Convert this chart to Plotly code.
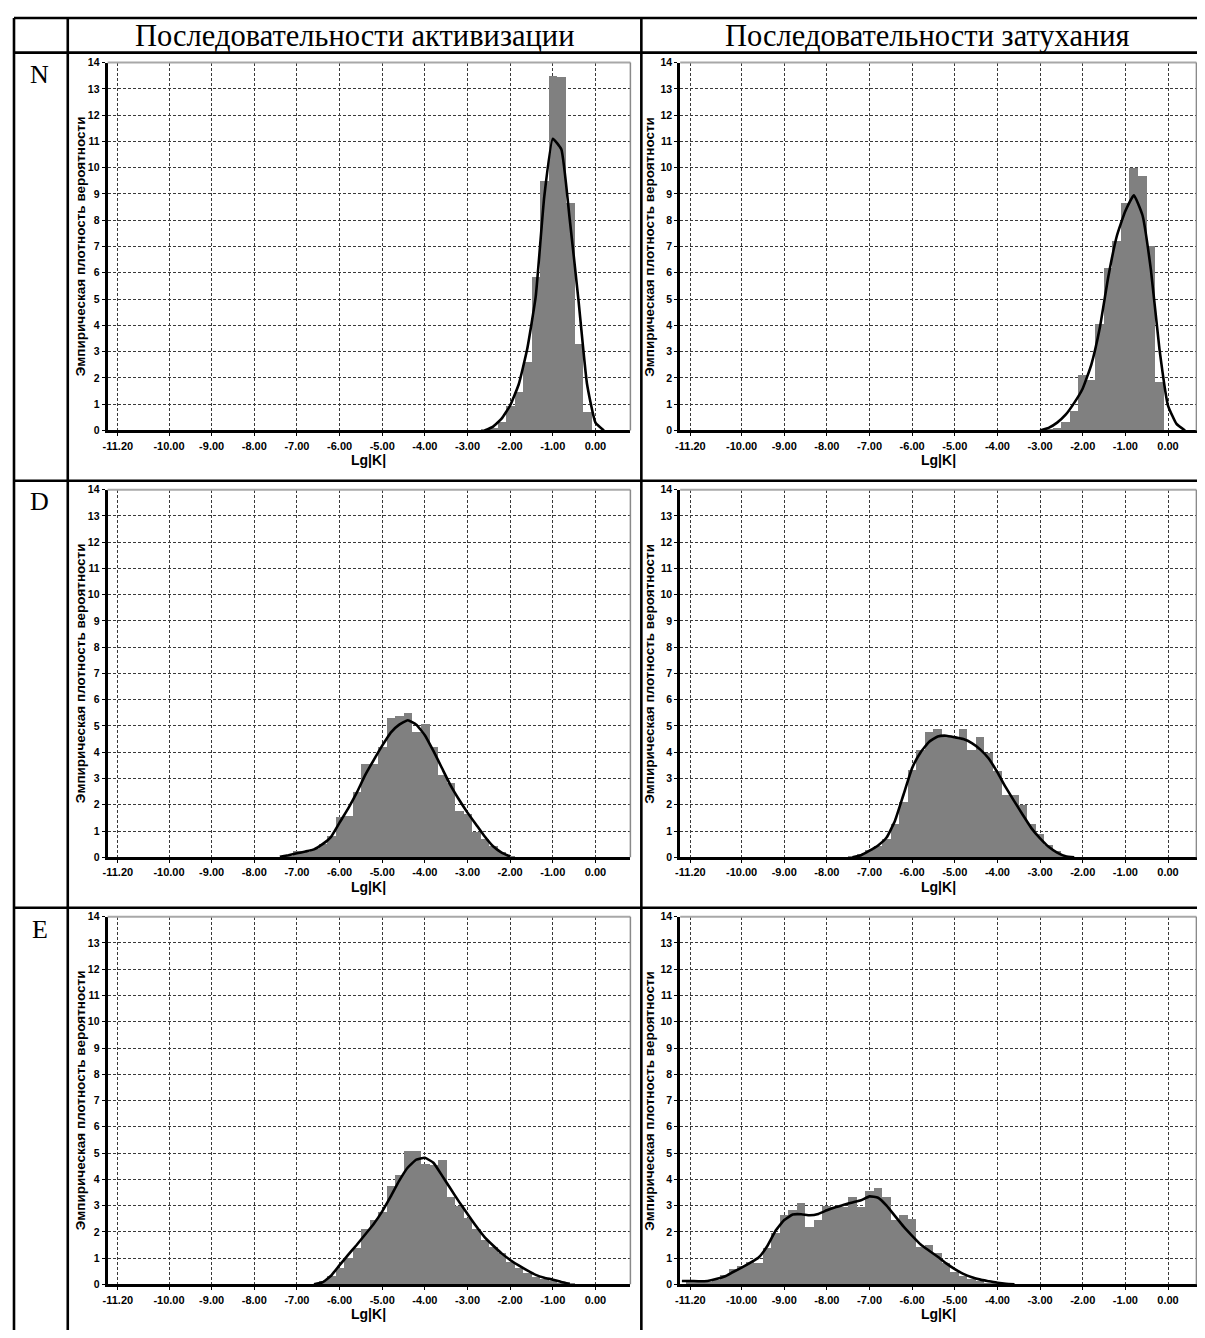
import plotly.graph_objects as go

W, H = 1205, 1338          # browser window
OFF = 8                    # default html body margin
FW, FH = W - 2 * OFF, H - 2 * OFF   # figure size so the page fits the window exactly

header_left = "Последовательности активизации"
header_right = "Последовательности затухания"
row_labels = ["N", "D", "E"]
y_title = "Эмпирическая плотность вероятности"
x_title = "Lg|K|"

x_tick_vals = [-11.2, -10, -9, -8, -7, -6, -5, -4, -3, -2, -1, 0]
x_tick_text = ["-11.20", "-10.00", "-9.00", "-8.00", "-7.00", "-6.00",
               "-5.00", "-4.00", "-3.00", "-2.00", "-1.00", "0.00"]
y_tick_vals = [0, 1, 2, 3, 4, 5, 6, 7, 8, 9, 10, 11, 12, 13, 14]

# ---- N, activation ----
n_act_bin_x = [-2.6, -2.4, -2.2, -2.0, -1.8, -1.6, -1.4, -1.2, -1.0, -0.8, -0.6, -0.4, -0.2]
n_act_bin_h = [0.05, 0.1, 0.35, 0.94, 1.5, 2.64, 5.84, 9.5, 13.5, 13.45, 8.69, 3.29, 0.72]
n_act_cur_x = [-2.6, -2.4, -2.2, -2.0, -1.8, -1.6, -1.4, -1.2, -1.0, -0.8, -0.6, -0.4, -0.2, 0.0, 0.2]
n_act_cur_y = [0.0, 0.15, 0.45, 0.95, 1.75, 3.1, 5.1, 8.9, 11.1, 10.7, 8.0, 5.0, 1.8, 0.3, 0.0]

# ---- N, decay ----
n_dec_bin_x = [-2.8, -2.6, -2.4, -2.2, -2.0, -1.8, -1.6, -1.4, -1.2, -1.0, -0.8, -0.6, -0.4, -0.2]
n_dec_bin_h = [0.05, 0.1, 0.35, 0.75, 2.13, 1.94, 4.08, 6.19, 7.22, 8.66, 10.0, 9.7, 7.03, 1.85]
n_dec_cur_x = [-3.0, -2.8, -2.6, -2.4, -2.2, -2.0, -1.8, -1.6, -1.4, -1.2, -1.0, -0.8, -0.6, -0.4, -0.2, 0.0, 0.2, 0.4]
n_dec_cur_y = [0.0, 0.1, 0.3, 0.6, 1.05, 1.6, 2.5, 3.9, 5.85, 7.4, 8.35, 8.95, 8.2, 6.1, 3.1, 0.95, 0.25, 0.0]

# ---- D, activation ----
d_act_bin_x = [-7.2, -7.0, -6.8, -6.6, -6.4, -6.2, -6.0, -5.8, -5.6, -5.4, -5.2, -5.0, -4.8, -4.6,
               -4.4, -4.2, -4.0, -3.8, -3.6, -3.4, -3.2, -3.0, -2.8, -2.6, -2.4, -2.2, -2.0]
d_act_bin_h = [0.05, 0.24, 0.2, 0.34, 0.53, 0.84, 1.56, 1.6, 2.5, 3.57, 3.55, 4.23, 5.3, 5.4,
               5.52, 4.8, 5.08, 4.23, 3.16, 2.85, 1.78, 1.66, 0.98, 0.72, 0.46, 0.2, 0.05]
d_act_cur_x = [-7.4, -7.2, -7.0, -6.8, -6.6, -6.4, -6.2, -6.0, -5.8, -5.6, -5.4, -5.2, -5.0, -4.8,
               -4.6, -4.4, -4.2, -4.0, -3.8, -3.6, -3.4, -3.2, -3.0, -2.8, -2.6, -2.4, -2.2, -2.0]
d_act_cur_y = [0.02, 0.08, 0.15, 0.22, 0.3, 0.5, 0.78, 1.32, 1.85, 2.45, 3.13, 3.7, 4.25, 4.75,
               5.05, 5.22, 5.05, 4.65, 4.05, 3.4, 2.75, 2.2, 1.7, 1.25, 0.8, 0.42, 0.18, 0.03]

# ---- D, decay ----
d_dec_bin_x = [-7.4, -7.2, -7.0, -6.8, -6.6, -6.4, -6.2, -6.0, -5.8, -5.6, -5.4, -5.2, -5.0, -4.8,
               -4.6, -4.4, -4.2, -4.0, -3.8, -3.6, -3.4, -3.2, -3.0, -2.8, -2.6, -2.4]
d_dec_bin_h = [0.05, 0.15, 0.28, 0.46, 0.72, 1.28, 2.1, 3.35, 4.1, 4.8, 4.88, 4.58, 4.58, 4.9,
               4.1, 4.58, 4.0, 3.3, 2.4, 2.4, 2.0, 1.3, 0.9, 0.5, 0.25, 0.08]
d_dec_cur_x = [-7.4, -7.2, -7.0, -6.8, -6.6, -6.4, -6.2, -6.0, -5.8, -5.6, -5.4, -5.2, -5.0, -4.8,
               -4.6, -4.4, -4.2, -4.0, -3.8, -3.6, -3.4, -3.2, -3.0, -2.8, -2.6, -2.4, -2.2]
d_dec_cur_y = [0.0, 0.08, 0.25, 0.45, 0.75, 1.4, 2.4, 3.4, 4.0, 4.4, 4.6, 4.63, 4.57, 4.5,
               4.35, 4.1, 3.75, 3.23, 2.65, 2.12, 1.6, 1.1, 0.72, 0.4, 0.18, 0.04, 0.0]

# ---- E, activation ----
e_act_bin_x = [-6.4, -6.2, -6.0, -5.8, -5.6, -5.4, -5.2, -5.0, -4.8, -4.6, -4.4, -4.2, -4.0, -3.8,
               -3.6, -3.4, -3.2, -3.0, -2.8, -2.6, -2.4, -2.2, -2.0, -1.8, -1.6, -1.4, -1.2, -1.0,
               -0.8, -0.6]
e_act_bin_h = [0.13, 0.31, 0.65, 1.0, 1.38, 2.1, 2.45, 2.75, 3.76, 4.17, 5.1, 5.1, 4.6, 4.55,
               4.75, 3.35, 3.0, 2.55, 2.1, 1.7, 1.45, 1.2, 0.85, 0.65, 0.45, 0.3, 0.2, 0.14,
               0.08, 0.03]
e_act_cur_x = [-6.6, -6.4, -6.2, -6.0, -5.8, -5.6, -5.4, -5.2, -5.0, -4.8, -4.6, -4.4, -4.2, -4.0,
               -3.8, -3.6, -3.4, -3.2, -3.0, -2.8, -2.6, -2.4, -2.2, -2.0, -1.8, -1.6, -1.4, -1.2,
               -1.0, -0.8, -0.6]
e_act_cur_y = [0.0, 0.08, 0.33, 0.73, 1.12, 1.5, 1.9, 2.3, 2.78, 3.35, 3.95, 4.45, 4.75, 4.82,
               4.63, 4.15, 3.65, 3.15, 2.68, 2.22, 1.8, 1.48, 1.18, 0.93, 0.72, 0.53, 0.36, 0.25,
               0.18, 0.09, 0.02]

# ---- E, decay ----
e_dec_bin_x = [-11.2, -11.0, -10.8, -10.6, -10.4, -10.2, -10.0, -9.8, -9.6, -9.4, -9.2, -9.0, -8.8,
               -8.6, -8.4, -8.2, -8.0, -7.8, -7.6, -7.4, -7.2, -7.0, -6.8, -6.6, -6.4, -6.2, -6.0,
               -5.8, -5.6, -5.4, -5.2, -5.0, -4.8, -4.6, -4.4, -4.2, -4.0, -3.8]
e_dec_bin_h = [0.15, 0.1, 0.1, 0.19, 0.38, 0.6, 0.7, 0.88, 0.82, 1.38, 1.95, 2.64, 2.83,
               3.1, 2.2, 2.45, 3.01, 2.97, 2.95, 3.35, 2.97, 3.58, 3.67, 3.35, 2.45, 2.66, 2.5,
               1.44, 1.5, 1.19, 0.82, 0.5, 0.31, 0.23, 0.15, 0.08, 0.04, 0.02]
e_dec_cur_x = [-11.4, -11.2, -11.0, -10.8, -10.6, -10.4, -10.2, -10.0, -9.8, -9.6, -9.4, -9.2, -9.0,
               -8.8, -8.6, -8.4, -8.2, -8.0, -7.8, -7.6, -7.4, -7.2, -7.0, -6.8, -6.6, -6.4, -6.2,
               -6.0, -5.8, -5.6, -5.4, -5.2, -5.0, -4.8, -4.6, -4.4, -4.2, -4.0, -3.8, -3.6]
e_dec_cur_y = [0.13, 0.13, 0.12, 0.13, 0.2, 0.3, 0.47, 0.64, 0.82, 1.02, 1.45, 2.05, 2.45,
               2.66, 2.67, 2.63, 2.68, 2.82, 2.94, 3.03, 3.12, 3.2, 3.35, 3.3, 3.0, 2.6, 2.2,
               1.85, 1.52, 1.28, 1.05, 0.8, 0.58, 0.4, 0.27, 0.18, 0.12, 0.06, 0.02, 0.0]

panels = [
    (n_act_bin_x, n_act_bin_h, n_act_cur_x, n_act_cur_y, 0, 0),
    (n_dec_bin_x, n_dec_bin_h, n_dec_cur_x, n_dec_cur_y, 0, 1),
    (d_act_bin_x, d_act_bin_h, d_act_cur_x, d_act_cur_y, 1, 0),
    (d_dec_bin_x, d_dec_bin_h, d_dec_cur_x, d_dec_cur_y, 1, 1),
    (e_act_bin_x, e_act_bin_h, e_act_cur_x, e_act_cur_y, 2, 0),
    (e_dec_bin_x, e_dec_bin_h, e_dec_cur_x, e_dec_cur_y, 2, 1),
]

# layout geometry in screen pixels (right column clipped at the figure edge)
col_px = [(103, 628), (678, W - OFF)]
col_range = [[-11.44, 0.82], [-11.44, 0.68]]
row_px = [(57, 428.3), (488, 859), (919, 1290)]


def px(x):
    return (x - OFF) / FW


def py(y):
    return 1 - (y - OFF) / FH


fig = go.Figure()
layout_axes = {}
shapes = []
annotations = []

sans = "Liberation Sans, Arial, sans-serif"
xtick_font = dict(family=sans, size=11, color="black", weight="bold")
ytick_font = dict(family=sans, size=10.5, color="black", weight="bold")
title_font = dict(family=sans, size=13.5, color="black", weight="bold")
xtitle_font = dict(family=sans, size=14, color="black", weight="bold")
serif_font = dict(family="Liberation Serif, Times New Roman, serif", size=30.5, color="black")
label_font = dict(family="Liberation Serif, Times New Roman, serif", size=26, color="black")

for i, (bx, bh, cx, cy, r, c) in enumerate(panels):
    n = i + 1
    xa = "x" if n == 1 else f"x{n}"
    ya = "y" if n == 1 else f"y{n}"
    x0, x1 = col_px[c]
    y0, y1 = row_px[r]
    fig.add_trace(go.Bar(x=bx, y=bh, width=0.2, xaxis=xa, yaxis=ya,
                         marker=dict(color="#808080", line=dict(width=0)),
                         showlegend=False))
    fig.add_trace(go.Scatter(x=cx, y=cy, mode="lines", xaxis=xa, yaxis=ya,
                             line=dict(color="black", width=2.6, shape="spline", smoothing=0.4),
                             showlegend=False))
    layout_axes["xaxis" if n == 1 else f"xaxis{n}"] = dict(
        domain=[px(x0), min(1.0, px(x1))], range=col_range[c], anchor=ya,
        tickmode="array", tickvals=x_tick_vals, ticktext=x_tick_text,
        tickfont=xtick_font, showgrid=True, gridcolor="#3a3a3a", gridwidth=1,
        griddash="3px,2px", showline=True, linecolor="black", linewidth=3,
        ticks="outside", ticklen=3, tickcolor="black", zeroline=False, fixedrange=True)
    layout_axes["yaxis" if n == 1 else f"yaxis{n}"] = dict(
        domain=[py(y1), py(y0)], range=[0, 14], anchor=xa,
        tickmode="array", tickvals=y_tick_vals,
        tickfont=ytick_font, showgrid=True, gridcolor="#3a3a3a", gridwidth=1,
        griddash="3px,2px", showline=True, linecolor="black", linewidth=3,
        ticks="outside", ticklen=3, tickcolor="black", zeroline=False, fixedrange=True)
    # thin grey frame on top and right
    xr = min(1.0, px(x1)) - (0.6 / FW if c == 1 else 0)
    shapes.append(dict(type="line", xref="paper", yref="paper", x0=px(x0), x1=xr,
                       y0=py(y0), y1=py(y0), line=dict(color="#a8a8a8", width=2), layer="above"))
    shapes.append(dict(type="line", xref="paper", yref="paper", x0=xr, x1=xr,
                       y0=py(y0), y1=py(y1), line=dict(color="#8a8a8a", width=1.5), layer="above"))
    # axis titles
    ytx = 76 if c == 0 else 647
    annotations.append(dict(text=y_title, xref="paper", yref="paper", x=px(ytx), y=py((y0 + y1) / 2),
                            textangle=-90, showarrow=False, font=title_font,
                            xanchor="center", yanchor="middle"))
    annotations.append(dict(text=x_title, xref="paper", yref="paper", x=px((x0 + x1) / 2),
                            y=py(y1 + 30), showarrow=False, font=xtitle_font,
                            xanchor="center", yanchor="middle"))

# table lines
tbl = dict(color="black", width=2.6)
for yy in [12, 47, 479, 910]:
    shapes.append(dict(type="line", xref="paper", yref="paper", x0=px(9), x1=px(W + 20),
                       y0=py(yy), y1=py(yy), line=tbl, layer="above"))
for xx in [9, 63, 639]:
    shapes.append(dict(type="line", xref="paper", yref="paper", x0=px(xx), x1=px(xx),
                       y0=py(12), y1=py(H + 20), line=tbl, layer="above"))

# header and row labels
annotations.append(dict(text=header_left, xref="paper", yref="paper", x=px(351), y=py(30),
                        showarrow=False, font=serif_font, xanchor="center", yanchor="middle"))
annotations.append(dict(text=header_right, xref="paper", yref="paper", x=px(926), y=py(30),
                        showarrow=False, font=serif_font, xanchor="center", yanchor="middle"))
for lab, yy in zip(row_labels, [69, 500, 932]):
    annotations.append(dict(text=lab, xref="paper", yref="paper", x=px(35), y=py(yy),
                            showarrow=False, font=label_font, xanchor="center", yanchor="middle"))

fig.update_layout(width=FW, height=FH, margin=dict(l=0, r=0, t=0, b=0),
                  paper_bgcolor="white", plot_bgcolor="white",
                  shapes=shapes, annotations=annotations, showlegend=False,
                  bargap=0, **layout_axes)

fig.write_html("out.html")
